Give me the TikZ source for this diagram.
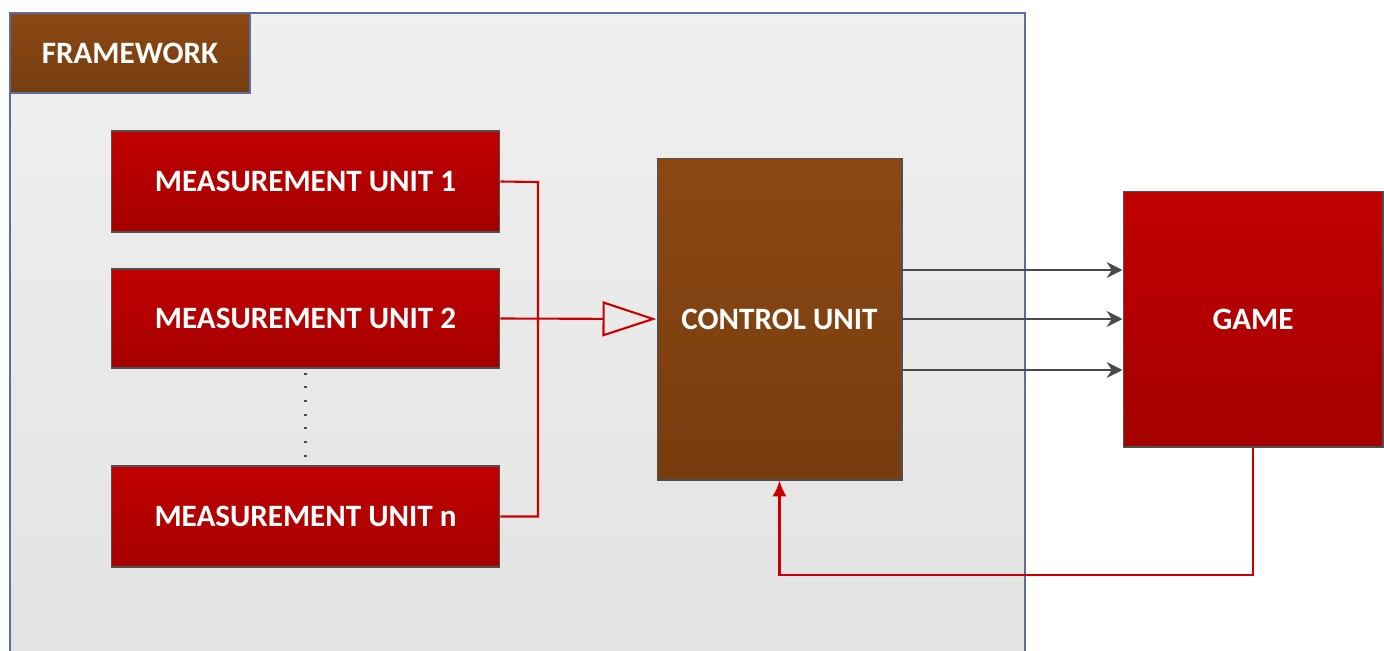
\documentclass[tikz,border=0pt]{standalone}
\usepackage{fontspec}
\setmainfont{Carlito}
\usetikzlibrary{arrows.meta}
\definecolor{redtop}{HTML}{C00000}
\definecolor{redbot}{HTML}{A50000}
\definecolor{browntop}{HTML}{8A4814}
\definecolor{brownbot}{HTML}{773D0F}
\definecolor{frameedge}{HTML}{5B6E9E}
\definecolor{boxedge}{HTML}{505050}
\definecolor{arrowgrey}{HTML}{4A4A4A}
\definecolor{linkred}{HTML}{CC0000}
\tikzset{
  box/.style={draw=boxedge, line width=0.6pt, inner sep=0pt, text=white,
    font=\fontsize{17.7}{21}\selectfont\bfseries},
  redbox/.style={box, top color=redtop, bottom color=redbot},
  brownbox/.style={box, top color=browntop, bottom color=brownbot},
  redlink/.style={draw=linkred, line width=1.2pt},
  greyarrow/.style={draw=arrowgrey, line width=1.5pt, -{Stealth[length=9pt,width=9pt]}},
}
\begin{document}
\begin{tikzpicture}[x=0.02cm,y=-0.02cm]
\useasboundingbox (0,0) rectangle (1384,650);
\fill[white] (0,0) rectangle (1384,650);
% framework area
\begin{scope}
\clip (0,0) rectangle (1384,650);
\shade[top color=black!6, bottom color=black!11] (10,13) rectangle (1025,660);
\draw[frameedge, line width=0.6pt] (10,660) -- (10,13) -- (1025,13) -- (1025,660);
\end{scope}
\node[brownbox, draw=frameedge, minimum width=4.8cm, minimum height=1.6cm] (fw) at (130,53) {FRAMEWORK};
% measurement units
\node[redbox, minimum width=7.78cm, minimum height=2.02cm] (mu1) at (305.5,181.5) {MEASUREMENT UNIT 1};
\node[redbox, minimum width=7.78cm, minimum height=1.98cm] (mu2) at (305.5,318.5) {MEASUREMENT UNIT 2};
\node[redbox, minimum width=7.78cm, minimum height=2.02cm] (mun) at (305.5,516.5) {MEASUREMENT UNIT n};
\draw[arrowgrey, line width=1.2pt, dash pattern=on 1.2pt off 6.6pt] ([yshift=-0.08cm]mu2.south) -- ([yshift=0.08cm]mun.north);
% control unit and game
\node[brownbox, minimum width=4.9cm, minimum height=6.44cm] (cu) at (779.5,319) {CONTROL UNIT};
\node[redbox, minimum width=5.2cm, minimum height=5.12cm] (game) at (1253,319) {GAME};
% links
\coordinate (bus) at (538,182);
\draw[redlink] (mu1.east) -- (bus) |- (mun.east);
\draw[redlink, -{Triangle[open, length=1.08cm, width=0.7cm, line width=1.2pt]}] (mu2.east) -- (cu.west);
\draw[greyarrow] ([yshift=0.98cm]cu.east) -- ([yshift=0.98cm]game.west);
\draw[greyarrow] (cu.east) -- (game.west);
\draw[greyarrow] ([yshift=-1.02cm]cu.east) -- ([yshift=-1.02cm]game.west);
\coordinate (fb) at (1253,575);
\draw[redlink, -{Latex[length=9pt,width=8pt]}] (game.south) -- (fb) -| (cu.south);
\end{tikzpicture}
\end{document}
